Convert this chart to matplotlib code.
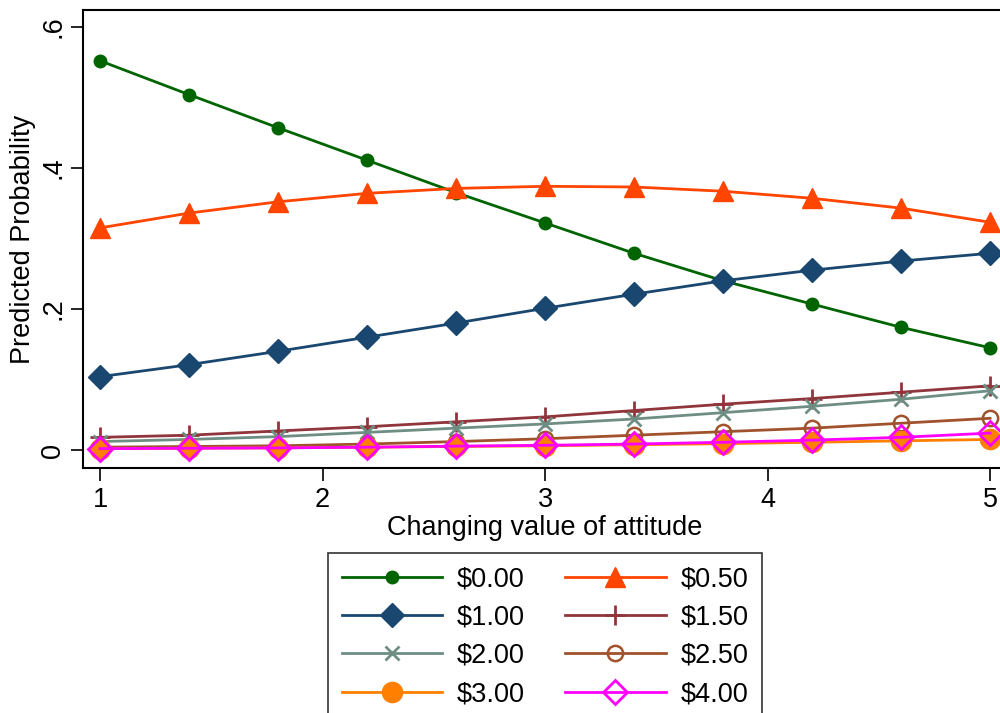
import matplotlib
matplotlib.use("Agg")
import matplotlib.pyplot as plt

plt.rcParams['font.family'] = ['Liberation Sans', 'DejaVu Sans']

attitude = [1.0, 1.4, 1.8, 2.2, 2.6, 3.0, 3.4, 3.8, 4.2, 4.6, 5.0]

p_000 = [0.552, 0.504, 0.457, 0.411, 0.365, 0.322, 0.279, 0.240, 0.207, 0.174, 0.145]
p_050 = [0.315, 0.336, 0.352, 0.364, 0.371, 0.374, 0.373, 0.367, 0.357, 0.343, 0.323]
p_100 = [0.104, 0.121, 0.140, 0.160, 0.180, 0.201, 0.221, 0.240, 0.255, 0.268, 0.279]
p_150 = [0.018, 0.021, 0.027, 0.033, 0.040, 0.047, 0.056, 0.065, 0.073, 0.082, 0.091]
p_200 = [0.012, 0.015, 0.019, 0.025, 0.031, 0.037, 0.044, 0.053, 0.062, 0.072, 0.084]
p_250 = [0.004, 0.005, 0.006, 0.0085, 0.012, 0.016, 0.021, 0.026, 0.031, 0.038, 0.045]
p_300 = [0.002, 0.0025, 0.003, 0.004, 0.005, 0.006, 0.0075, 0.009, 0.011, 0.013, 0.015]
p_400 = [0.002, 0.0025, 0.003, 0.004, 0.0055, 0.0067, 0.0085, 0.011, 0.014, 0.018, 0.024]

labels = ["$0.00", "$0.50", "$1.00", "$1.50", "$2.00", "$2.50", "$3.00", "$4.00"]
x_ticks = [1, 2, 3, 4, 5]
y_ticks = [0, 0.2, 0.4, 0.6]
y_ticklabels = ["0", ".2", ".4", ".6"]

series = [p_000, p_050, p_100, p_150, p_200, p_250, p_300, p_400]
styles = [
    dict(color="#006400", marker="o", ms=9, mfc="#006400", mec="#006400"),
    dict(color="#FF4500", marker="^", ms=15, mfc="#FF4500", mec="#FF4500"),
    dict(color="#1A476F", marker="D", ms=12, mfc="#1A476F", mec="#1A476F"),
    dict(color="#90353B", marker="+", ms=15, mew=2.0, mfc="none", mec="#90353B"),
    dict(color="#6E8E84", marker="x", ms=10, mew=2.0, mfc="none", mec="#6E8E84"),
    dict(color="#A0522D", marker="o", ms=11, mew=1.8, mfc="none", mec="#A0522D"),
    dict(color="#FF7F00", marker="o", ms=14.5, mfc="#FF7F00", mec="#FF7F00"),
    dict(color="#FF00FF", marker="D", ms=12, mew=2.0, mfc="none", mec="#FF00FF"),
]

fig = plt.figure(figsize=(10, 7.13), dpi=100)
ax = fig.add_axes([0.083, (713 - 468) / 713, 0.924, (468 - 10) / 713])

handles = []
for vals, lab, st in zip(series, labels, styles):
    h, = ax.plot(attitude, vals, lw=2.0, label=lab, **st)
    handles.append(h)

ax.set_xlim(0.9236, 5.076)
ax.set_ylim(-0.0255, 0.624)
ax.set_xticks(x_ticks)
ax.set_xticklabels([str(t) for t in x_ticks])
ax.set_yticks(y_ticks)
ax.set_yticklabels(y_ticklabels, rotation=90, va="center")
ax.tick_params(axis="both", direction="out", length=9, width=1.2, labelsize=19.5)
ax.tick_params(axis="y", pad=3)
ax.tick_params(axis="x", pad=5)
for sp in ax.spines.values():
    sp.set_linewidth(1.5)
    sp.set_color("black")

ax.set_xlabel("Changing value of attitude", fontsize=19.5, labelpad=1)
ax.set_ylabel("Predicted Probability", fontsize=19.5, labelpad=3)

# legend laid out row by row: two entries per row
order = [0, 2, 4, 6, 1, 3, 5, 7]
leg = fig.legend([handles[i] for i in order], [labels[i] for i in order],
                 ncol=2, loc="upper center", bbox_to_anchor=(0.545, 1 - 553 / 713),
                 fontsize=19.5, frameon=True, fancybox=False, edgecolor="black",
                 handlelength=3.7, handletextpad=0.55, columnspacing=1.5,
                 labelspacing=0.45, borderpad=0.5, borderaxespad=0)
leg.get_frame().set_linewidth(1.2)

fig.savefig("out.png", dpi=100, facecolor="white")
